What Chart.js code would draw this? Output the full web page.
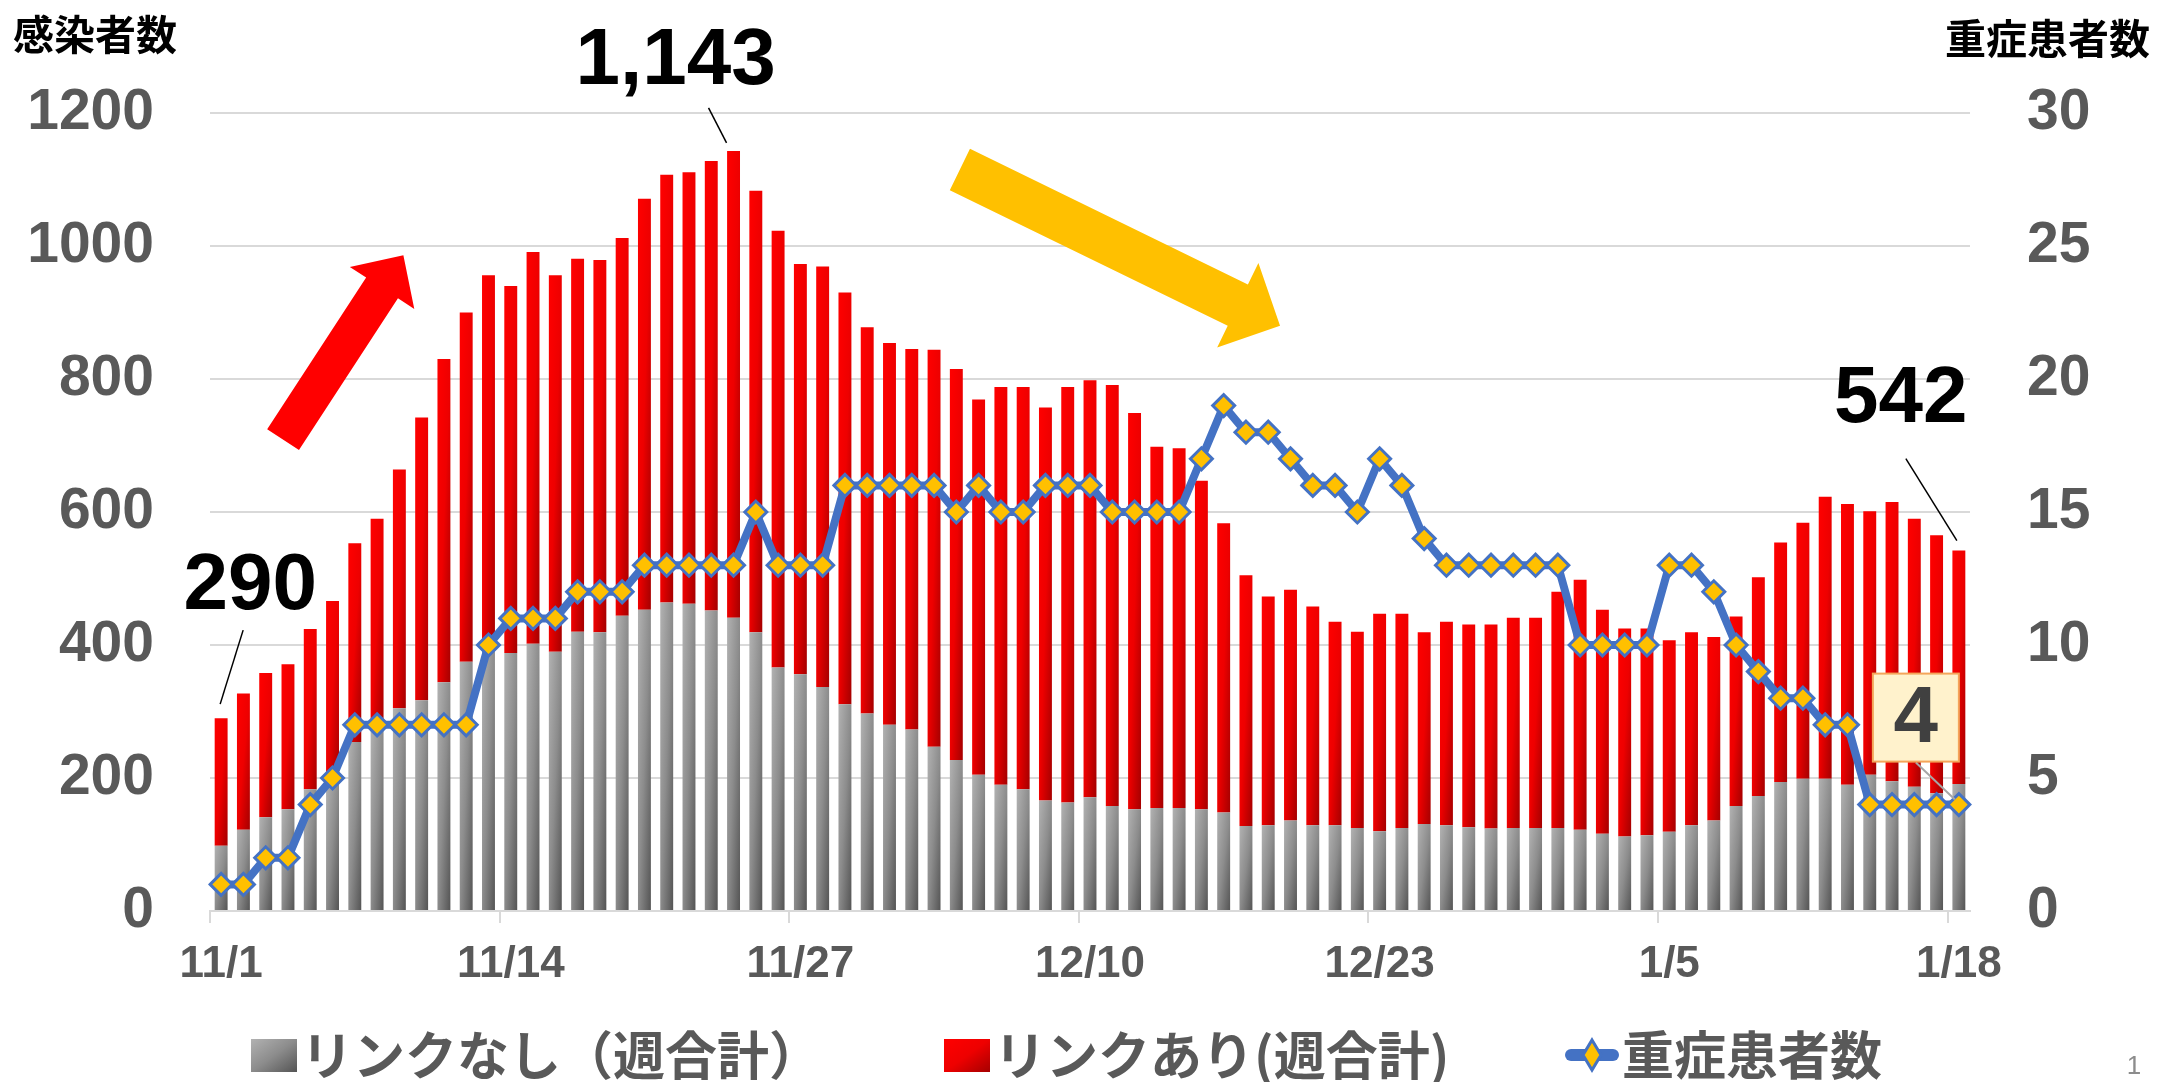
<!DOCTYPE html>
<html lang="ja">
<head>
<meta charset="utf-8">
<title>感染者数と重症患者数</title>
<script src="https://cdn.jsdelivr.net/npm/chart.js"></script>
<style>
  html, body { margin: 0; padding: 0; background: #fff; }
  #casesCanvas { display: block; }
</style>
</head>
<body>
<canvas id="casesCanvas" width="2157" height="1082"></canvas>
<script>
// 日付
var dates = ["11/1","11/2","11/3","11/4","11/5","11/6","11/7","11/8","11/9","11/10",
  "11/11","11/12","11/13","11/14","11/15","11/16","11/17","11/18","11/19","11/20",
  "11/21","11/22","11/23","11/24","11/25","11/26","11/27","11/28","11/29","11/30",
  "12/1","12/2","12/3","12/4","12/5","12/6","12/7","12/8","12/9","12/10",
  "12/11","12/12","12/13","12/14","12/15","12/16","12/17","12/18","12/19","12/20",
  "12/21","12/22","12/23","12/24","12/25","12/26","12/27","12/28","12/29","12/30",
  "12/31","1/1","1/2","1/3","1/4","1/5","1/6","1/7","1/8","1/9",
  "1/10","1/11","1/12","1/13","1/14","1/15","1/16","1/17","1/18"];

// リンクなし（週合計）
var noLink = [98,122,141,153,183,198,254,280,305,317,
  344,375,392,388,402,390,420,419,444,453,
  464,462,452,441,419,366,356,337,311,297,
  280,273,247,227,205,190,183,166,163,171,
  158,153,155,155,153,148,128,129,136,129,
  129,125,120,125,131,129,126,124,125,125,
  125,122,116,112,114,119,129,136,158,173,
  194,199,199,190,205,195,187,177,191];

// リンクあり(週合計)
var withLink = [192,205,217,218,241,268,299,310,359,425,
  486,525,564,552,589,566,561,560,568,618,
  643,649,676,702,664,657,617,632,619,581,
  574,572,597,588,564,598,605,591,625,627,
  633,596,543,541,494,435,377,344,347,329,
  306,295,327,322,288,306,305,307,316,316,
  355,376,337,313,311,288,290,276,285,329,
  360,385,424,422,396,420,403,388,351];

// 重症患者数
var severe = [1,1,2,2,4,5,7,7,7,7,
  7,7,10,11,11,11,12,12,12,13,
  13,13,13,13,15,13,13,13,16,16,
  16,16,16,15,16,15,15,16,16,16,
  15,15,15,15,17,19,18,18,17,16,
  16,15,17,16,14,13,13,13,13,13,
  13,10,10,10,10,13,13,12,10,9,
  8,8,7,7,4,4,4,4,4];

var leftTicks = [0, 200, 400, 600, 800, 1000, 1200];
var rightTicks = [0, 5, 10, 15, 20, 25, 30];
var dateTicks = ["11/1","11/14","11/27","12/10","12/23","1/5","1/18"];

var NUM_FONT = "'Liberation Sans', Arial, sans-serif";
var JP_FONT = "'Noto Sans CJK JP', 'Noto Sans CJK SC', sans-serif";
var AXIS_GRAY = "#595959";
var BAR_PCT = 0.58;
var GRAY_STOPS = [[0, "#b2b2b2"], [0.5, "#8c8c8c"], [1, "#545454"]];
var RED_STOPS = [[0, "#ff0000"], [0.5, "#ee0000"], [1, "#a50000"]];

function total(i) { return noLink[i] + withLink[i]; }

// 斜めグラデーション（左上→右下）
function diagFill(c, x0, y0, w, h, stops) {
  var k = 2 * w * h / (w * w + h * h);
  var g = c.createLinearGradient(x0, y0, x0 + h * k, y0 + w * k);
  for (var i = 0; i < stops.length; i++) g.addColorStop(stops[i][0], stops[i][1]);
  return g;
}

function barFill(stops, lower, upper) {
  return function (ctx) {
    var chart = ctx.chart;
    var xs = chart.scales.x, ys = chart.scales.y;
    if (ctx.type !== "data" || !xs || !ys || !chart.chartArea) return stops[1][1];
    var i = ctx.dataIndex;
    var w = xs.width / dates.length * BAR_PCT;
    var x = xs.getPixelForValue(i) - w / 2;
    var top = ys.getPixelForValue(upper(i));
    var bot = ys.getPixelForValue(lower(i));
    if (!isFinite(w) || !isFinite(x) || !isFinite(top) || !isFinite(bot) || w <= 0) return stops[1][1];
    return diagFill(chart.ctx, x, top, w, Math.max(bot - top, 1), stops);
  };
}

// 矢印（データ座標で指定）
var arrows = [
  { from: [2.78, 709], to: [8.18, 986], shaft: 38, head: 77, headLen: 39, color: "#ff0000" },
  { from: [33.16, 1115], to: [47.53, 880], shaft: 46, head: 94, headLen: 47, color: "#ffc000" }
];

// 吹き出しラベル
var callouts = [
  { day: 0, dx: 29, dy: -131, line: [22, -88, -1, -14] },
  { day: 23, dx: -58, dy: -89, line: [-25, -43, -7, -8] },
  { day: 78, dx: -58, dy: -151, line: [-53, -92, -2, -10] }
];

var legendItems = [
  { text: "リンクなし（週合計）", kind: "gray", x: 251 },
  { text: "リンクあり(週合計)", kind: "red", x: 944 },
  { text: "重症患者数", kind: "line", x: 1565 }
];

function drawArrow(c, x0, y0, x1, y1, sw, hw, hl, color) {
  var dx = x1 - x0, dy = y1 - y0, len = Math.hypot(dx, dy);
  var ux = dx / len, uy = dy / len, nx = -uy, ny = ux;
  var bx = x1 - ux * hl, by = y1 - uy * hl;
  c.beginPath();
  c.moveTo(x0 + nx * sw / 2, y0 + ny * sw / 2);
  c.lineTo(bx + nx * sw / 2, by + ny * sw / 2);
  c.lineTo(bx + nx * hw / 2, by + ny * hw / 2);
  c.lineTo(x1, y1);
  c.lineTo(bx - nx * hw / 2, by - ny * hw / 2);
  c.lineTo(bx - nx * sw / 2, by - ny * sw / 2);
  c.lineTo(x0 - nx * sw / 2, y0 - ny * sw / 2);
  c.closePath();
  c.fillStyle = color;
  c.fill();
}

function drawDiamond(c, x, y, hw, hh) {
  c.beginPath();
  c.moveTo(x, y - hh);
  c.lineTo(x + hw, y);
  c.lineTo(x, y + hh);
  c.lineTo(x - hw, y);
  c.closePath();
  c.fillStyle = "#ffc000";
  c.fill();
  c.lineWidth = 3;
  c.strokeStyle = "#4472c4";
  c.stroke();
}

var decorPlugin = {
  id: "decor",
  afterDatasetsDraw: function (chart) {
    var c = chart.ctx;
    var xs = chart.scales.x, ys = chart.scales.y;
    var bars = chart.getDatasetMeta(2).data;
    var pts = chart.getDatasetMeta(0).data;
    c.save();

    arrows.forEach(function (a) {
      drawArrow(c, xs.getPixelForValue(a.from[0]), ys.getPixelForValue(a.from[1]),
        xs.getPixelForValue(a.to[0]), ys.getPixelForValue(a.to[1]),
        a.shaft, a.head, a.headLen, a.color);
    });

    // 感染者数のラベル
    c.font = "bold 80px " + NUM_FONT;
    c.textAlign = "center";
    c.textBaseline = "middle";
    callouts.forEach(function (o) {
      var b = bars[o.day];
      c.beginPath();
      c.moveTo(b.x + o.line[0], b.y + o.line[1]);
      c.lineTo(b.x + o.line[2], b.y + o.line[3]);
      c.lineWidth = 1.5;
      c.strokeStyle = "#000";
      c.stroke();
      c.fillStyle = "#000";
      c.fillText(total(o.day).toLocaleString("en-US"), b.x + o.dx, b.y + o.dy);
    });

    // 重症患者数 最終日
    var last = severe.length - 1;
    var p = pts[last];
    c.beginPath();
    c.moveTo(p.x - 43, p.y - 42);
    c.lineTo(p.x - 4, p.y - 5);
    c.lineWidth = 2;
    c.strokeStyle = "#a6a6a6";
    c.stroke();
    c.fillStyle = "#fff2cc";
    c.fillRect(p.x - 86, p.y - 131, 86, 88);
    c.lineWidth = 2;
    c.strokeStyle = "#f4a55a";
    c.strokeRect(p.x - 86, p.y - 131, 86, 88);
    c.fillStyle = "#404040";
    c.font = "bold 80px " + NUM_FONT;
    c.fillText(String(severe[last]), p.x - 43, p.y - 85);
    c.restore();
  },
  afterDraw: function (chart) {
    var c = chart.ctx;
    c.save();
    // 軸タイトル
    c.font = "bold 41px " + JP_FONT;
    c.fillStyle = "#000";
    c.textBaseline = "middle";
    c.textAlign = "left";
    c.fillText("感染者数", 13, 34);
    c.textAlign = "right";
    c.fillText("重症患者数", 2150, 38);

    // 凡例
    var ly = 1055;
    legendItems.forEach(function (it) {
      var tx;
      if (it.kind === "line") {
        c.beginPath();
        c.moveTo(it.x + 6, ly);
        c.lineTo(it.x + 48, ly);
        c.lineWidth = 12;
        c.lineCap = "round";
        c.strokeStyle = "#4472c4";
        c.stroke();
        drawDiamond(c, it.x + 27, ly, 9, 15);
        tx = it.x + 57;
      } else {
        c.fillStyle = diagFill(c, it.x, ly - 16, 46, 33, it.kind === "gray" ? GRAY_STOPS : RED_STOPS);
        c.fillRect(it.x, ly - 16, 46, 33);
        tx = it.x + 50;
      }
      c.font = "bold 52px " + JP_FONT;
      c.fillStyle = AXIS_GRAY;
      c.textAlign = "left";
      c.textBaseline = "middle";
      c.fillText(it.text, tx, ly);
    });

    c.font = "26px " + NUM_FONT;
    c.fillStyle = "#8c8c8c";
    c.textAlign = "center";
    c.fillText("1", 2134, 1067);
    c.restore();
  }
};

var ctx = document.getElementById("casesCanvas");
var chart = new Chart(ctx, {
  data: {
    labels: dates,
    datasets: [{
      type: "line",
      label: "重症患者数",
      data: severe,
      yAxisID: "y2",
      order: 0,
      borderColor: "#4472c4",
      borderWidth: 8,
      tension: 0,
      pointStyle: "rectRot",
      pointRadius: 11,
      pointBackgroundColor: "#ffc000",
      pointBorderColor: "#4472c4",
      pointBorderWidth: 3
    }, {
      type: "bar",
      label: "リンクなし（週合計）",
      data: noLink,
      yAxisID: "y",
      stack: "cases",
      order: 1,
      barPercentage: BAR_PCT,
      categoryPercentage: 1,
      backgroundColor: barFill(GRAY_STOPS, function () { return 0; }, function (i) { return noLink[i]; })
    }, {
      type: "bar",
      label: "リンクあり(週合計)",
      data: withLink,
      yAxisID: "y",
      stack: "cases",
      order: 1,
      barPercentage: BAR_PCT,
      categoryPercentage: 1,
      backgroundColor: barFill(RED_STOPS, function (i) { return noLink[i]; }, total)
    }]
  },
  options: {
    responsive: false,
    animation: false,
    devicePixelRatio: 1,
    layout: { padding: { top: 113, bottom: 81, left: 0, right: 0 } },
    plugins: {
      legend: { display: false },
      tooltip: { enabled: false }
    },
    scales: {
      x: {
        stacked: true,
        offset: true,
        border: { color: "#d9d9d9", width: 2 },
        grid: {
          offset: true,
          drawOnChartArea: false,
          drawTicks: true,
          tickLength: 12,
          lineWidth: 2,
          color: function (c) {
            return dateTicks.indexOf(dates[c.index]) >= 0 ? "#d9d9d9" : "rgba(0,0,0,0)";
          }
        },
        ticks: {
          autoSkip: false,
          maxRotation: 0,
          padding: 15,
          color: AXIS_GRAY,
          font: { family: NUM_FONT, size: 44, weight: "bold" },
          callback: function (v, i) { return dateTicks.indexOf(dates[i]) >= 0 ? dates[i] : ""; }
        },
        afterFit: function (s) { s.height = 90; }
      },
      y: {
        position: "left",
        stacked: true,
        min: leftTicks[0],
        max: leftTicks[leftTicks.length - 1],
        border: { display: false },
        grid: { color: "#d9d9d9", lineWidth: 2, drawTicks: false },
        ticks: {
          stepSize: leftTicks[1] - leftTicks[0],
          padding: 56,
          color: AXIS_GRAY,
          font: { family: NUM_FONT, size: 57, weight: "bold" },
          callback: function (v) { return String(v); }
        },
        afterFit: function (s) { s.width = 210; }
      },
      y2: {
        position: "right",
        min: rightTicks[0],
        max: rightTicks[rightTicks.length - 1],
        border: { display: false },
        grid: { display: false, drawTicks: false },
        ticks: {
          stepSize: rightTicks[1] - rightTicks[0],
          padding: 57,
          color: AXIS_GRAY,
          font: { family: NUM_FONT, size: 57, weight: "bold" },
          callback: function (v) { return String(v); }
        },
        afterFit: function (s) { s.width = 187; }
      }
    }
  },
  plugins: [decorPlugin]
});
</script>
</body>
</html>
